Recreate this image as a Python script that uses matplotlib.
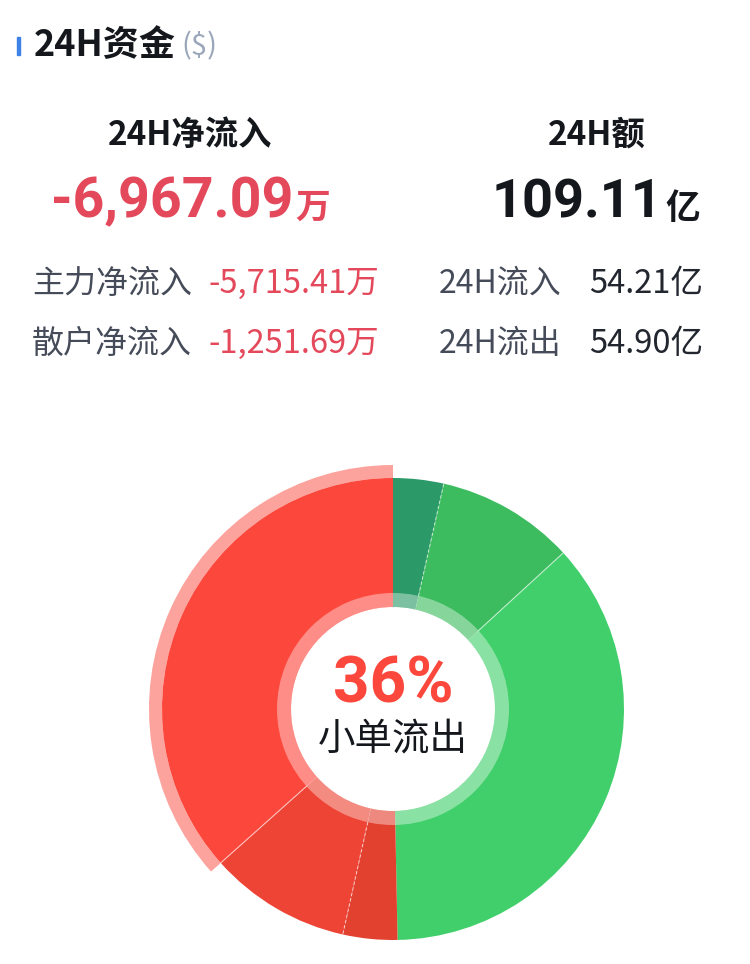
import matplotlib
matplotlib.use("Agg")
import matplotlib.pyplot as plt
from matplotlib.patches import Wedge, Rectangle
import numpy as np

# ---------------- data ----------------
title = "24H资金"
title_unit = "($)"
net_label = "24H净流入"
net_value = "-6,967.09"
net_unit = "万"
amount_label = "24H额"
amount_value = "109.11"
amount_unit = "亿"
left_rows = ["主力净流入", "散户净流入"]
left_values = ["-5,715.41万", "-1,251.69万"]
right_rows = ["24H流入", "24H流出"]
right_values = ["54.21亿", "54.90亿"]

# donut: order clockwise from 12 o'clock (亿)
slice_names = ["大单流入", "中单流入", "小单流入", "大单流出", "中单流出", "小单流出"]
slice_values = [3.85, 10.54, 39.82, 4.15, 10.81, 39.94]
slice_colors = ["#2b9a68", "#3cbc5e", "#41cf6b", "#e2412f", "#ee4435", "#fc483c"]
highlight_index = 5
center_label = "小单流出"

# ---------------- figure ----------------
W, H = 750, 964
fig = plt.figure(figsize=(W / 100, H / 100), dpi=100)
fig.patch.set_facecolor("white")

CJK = ["Noto Sans CJK SC", "DejaVu Sans"]
NUM = ["Roboto", "Noto Sans CJK SC", "DejaVu Sans"]


def px(x, y):
    return x / W, 1 - y / H


# title
fig.patches.append(Rectangle(px(17, 55), 3 / W, 18 / H, transform=fig.transFigure,
                             color="#3d82e6", figure=fig))
fig.text(*px(34, 46), title, ha="left", va="center", fontsize=26, fontweight="bold",
         family=CJK, color="#14171c")
fig.text(*px(181, 46), title_unit, ha="left", va="center", fontsize=21,
         family=CJK, color="#9aa6b9")

# headings
fig.text(*px(190, 135), net_label, ha="center", va="center", fontsize=24,
         fontweight="bold", family=CJK, color="#14171c")
fig.text(*px(597, 135), amount_label, ha="center", va="center", fontsize=24,
         fontweight="bold", family=CJK, color="#14171c")

# big values
red_txt = "#e4495b"
fig.text(*px(293, 217), net_value, ha="right", va="baseline", fontsize=40,
         fontweight="bold", family=NUM, color=red_txt)
fig.text(*px(295, 218), net_unit, ha="left", va="baseline", fontsize=25,
         fontweight="bold", family=CJK, color=red_txt)
fig.text(*px(662, 218), amount_value, ha="right", va="baseline", fontsize=39,
         fontweight="bold", family=NUM, color="#14171c")
fig.text(*px(665, 219), amount_unit, ha="left", va="baseline", fontsize=25,
         fontweight="bold", family=CJK, color="#14171c")

# rows
row_y = [284, 344]
for i in range(2):
    fig.text(*px(32, row_y[i]), left_rows[i], ha="left", va="center", fontsize=23,
             family=CJK, color="#454b58")
    fig.text(*px(209, row_y[i]), left_values[i], ha="left", va="center", fontsize=23.5,
             family=CJK, color=red_txt)
    fig.text(*px(439, row_y[i]), right_rows[i], ha="left", va="center", fontsize=23,
             family=CJK, color="#454b58")
    fig.text(*px(589, row_y[i]), right_values[i], ha="left", va="center", fontsize=23.5,
             family=CJK, color="#22262e")

# ---------------- donut ----------------
cx, cy = 393, 709
half = 255
ax = fig.add_axes([(cx - half) / W, (H - cy - half) / H, 2 * half / W, 2 * half / H])

R_out, R_in, R_band = 231, 102, 116
wedges, _ = ax.pie(slice_values, colors=slice_colors, radius=R_out, startangle=90,
                   counterclock=False, center=(0, 0),
                   wedgeprops=dict(width=R_out - R_in, edgecolor="none", linewidth=0))
ax.set_xlim(-half, half)
ax.set_ylim(-half, half)
ax.set_aspect("equal")
ax.axis("off")

# slice boundaries (angles in matplotlib convention)
vals = np.array(slice_values)
cum = np.concatenate([[0], np.cumsum(vals)]) / vals.sum() * 360.0
ang = 90 - cum  # clockwise from top

# separators
for k in range(1, len(vals)):
    if k == 3:
        continue
    a = np.deg2rad(ang[k])
    ls = (0, (3, 2)) if k in (1, 4) else "-"
    ax.plot([R_band * np.cos(a), R_out * np.cos(a)], [R_band * np.sin(a), R_out * np.sin(a)],
            color="white", lw=0.8, alpha=0.6, ls=ls, zorder=3)

# lighter inner band
ax.add_patch(Wedge((0, 0), R_band, 0, 360, width=R_band - R_in, facecolor="white",
                   alpha=0.38, edgecolor="none", zorder=4))

# highlight ring for selected slice
h = highlight_index
ax.add_patch(Wedge((0, 0), R_out + 13, ang[h + 1], ang[h], width=13,
                   facecolor=slice_colors[h], alpha=0.5, edgecolor="none", zorder=2))

pct = int(vals[h] / vals.sum() * 100)
ax.text(0, 24, f"{pct}%", ha="center", va="center", fontsize=46, fontweight="bold",
        family=NUM, color=slice_colors[h], zorder=5)
ax.text(0, -30, center_label, ha="center", va="center", fontsize=27,
        family=CJK, color="#14171c", zorder=5)

fig.savefig("out.png", dpi=100, facecolor="white")
